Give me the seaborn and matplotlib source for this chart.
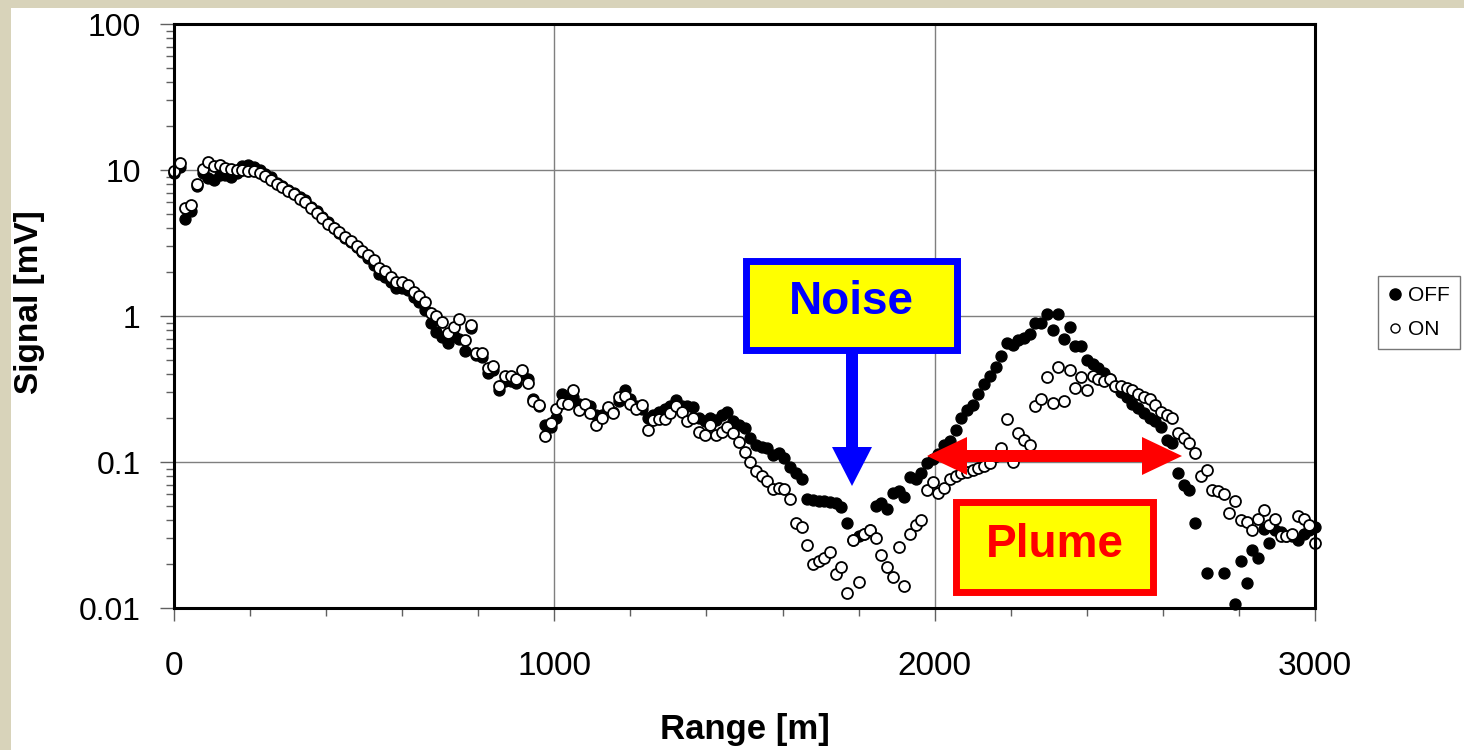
import numpy as np
import pandas as pd
import matplotlib
matplotlib.use("Agg")
import matplotlib.pyplot as plt
import seaborn as sns
from matplotlib.patches import Rectangle, Polygon
from matplotlib.lines import Line2D
from matplotlib.ticker import MultipleLocator, LogLocator, NullFormatter, FixedLocator, FixedFormatter

# ---------------- data ----------------
range_m = np.arange(0, 3001, 15)  # 15 m lidar range bins

signal_on = [
    9.8, 11.2, 5.5, 5.8, 8.0, 10.2, 11.3, 10.6, 10.8, 10.4,
    10.1, 10.0, 10.0, 9.9, 9.8, 9.5, 9.1, 8.6, 8.0, 7.6,
    7.2, 6.9, 6.3, 6.0, 5.5, 5.1, 4.7, 4.3, 4.0, 3.75,
    3.45, 3.25, 3.0, 2.8, 2.6, 2.4, 2.12, 2.04, 1.86, 1.72,
    1.72, 1.63, 1.47, 1.37, 1.25, 1.05, 1.0, 0.91, 0.77, 0.84,
    0.95, 0.68, 0.87, 0.56, 0.56, 0.44, 0.455, 0.33, 0.39, 0.39,
    0.37, 0.43, 0.35, 0.26, 0.245, 0.15, 0.186, 0.23, 0.255, 0.25,
    0.31, 0.227, 0.25, 0.215, 0.18, 0.2, 0.237, 0.218, 0.28, 0.284,
    0.25, 0.23, 0.245, 0.166, 0.194, 0.196, 0.196, 0.215, 0.24, 0.22,
    0.19, 0.2, 0.16, 0.153, 0.18, 0.153, 0.16, 0.175, 0.157, 0.138,
    0.118, 0.1, 0.087, 0.08, 0.074, 0.065, 0.066, 0.065, 0.056, 0.038,
    0.036, 0.027, 0.02, 0.021, 0.022, 0.024, 0.017, 0.019, 0.0126, 0.029,
    0.015, 0.032, 0.034, 0.03, 0.023, 0.019, 0.0164, 0.026, 0.0142, 0.032,
    0.037, 0.04, 0.064, 0.073, 0.061, 0.066, 0.077, 0.08, 0.084, 0.086,
    0.088, 0.091, 0.094, 0.098, 0.11, 0.124, 0.196, 0.1, 0.157, 0.142,
    0.131, 0.24, 0.27, 0.38, 0.255, 0.45, 0.263, 0.43, 0.32, 0.38,
    0.31, 0.39, 0.37, 0.36, 0.37, 0.33, 0.33, 0.32, 0.31, 0.29,
    0.28, 0.27, 0.245, 0.22, 0.21, 0.2, 0.157, 0.145, 0.134, 0.115,
    0.08, 0.088, 0.064, 0.063, 0.06, 0.045, 0.054, 0.04, 0.039, 0.034,
    0.041, 0.047, 0.037, 0.041, 0.031, 0.031, 0.032, 0.043, 0.041, 0.037,
    0.028,
]

nan = float("nan")
signal_off = [
    9.5, 10.5, 4.6, 5.2, 7.8, 9.5, 8.8, 8.6, 9.3, 9.2,
    9.0, 9.6, 10.6, 10.9, 10.5, 10.0, 9.4, 8.9, 8.2, 7.8,
    7.3, 7.0, 6.5, 6.2, 5.6, 5.2, 4.8, 4.4, 4.0, 3.7,
    3.4, 3.2, 2.95, 2.75, 2.5, 2.25, 1.95, 1.85, 1.7, 1.55,
    1.55, 1.5, 1.35, 1.25, 1.1, 0.89, 0.78, 0.72, 0.65, 0.73,
    0.7, 0.58, 0.83, 0.54, 0.52, 0.41, 0.43, 0.31, 0.36, 0.36,
    0.35, 0.4, 0.37, 0.27, 0.24, 0.18, 0.175, 0.2, 0.29, 0.26,
    0.28, 0.25, 0.24, 0.24, 0.21, 0.21, 0.23, 0.22, 0.26, 0.31,
    0.27, 0.24, 0.23, 0.2, 0.21, 0.22, 0.23, 0.24, 0.266, 0.24,
    0.24, 0.237, 0.2, 0.19, 0.2, 0.195, 0.21, 0.22, 0.19, 0.18,
    0.17, 0.145, 0.13, 0.127, 0.125, 0.112, 0.115, 0.106, 0.092, 0.084,
    0.077, 0.056, 0.055, 0.054, 0.054, 0.053, 0.052, 0.049, 0.038, 0.029,
    0.031, 0.032, 0.034, 0.05, 0.052, 0.048, 0.061, 0.063, 0.058, 0.079,
    0.077, 0.084, 0.098, 0.105, 0.113, 0.13, 0.14, 0.165, 0.2, 0.227,
    0.245, 0.29, 0.34, 0.39, 0.45, 0.53, 0.65, 0.63, 0.68, 0.71,
    0.75, 0.9, 0.9, 1.04, 0.8, 1.04, 0.7, 0.84, 0.62, 0.62,
    0.5, 0.47, 0.44, 0.41, 0.37, 0.33, 0.3, 0.28, 0.25, 0.235,
    0.215, 0.2, 0.19, 0.175, 0.142, 0.134, 0.084, 0.07, 0.064, 0.038,
    nan, 0.0175, nan, nan, 0.0173, nan, 0.0106, 0.021, 0.0148, 0.025,
    0.022, 0.035, 0.028, 0.034, 0.033, 0.031, 0.031, 0.029, 0.032, 0.034,
    0.036,
]

x_ticks = [0, 1000, 2000, 3000]
x_tick_labels = ["0", "1000", "2000", "3000"]
y_ticks = [0.01, 0.1, 1, 10, 100]
y_tick_labels = ["0.01", "0.1", "1", "10", "100"]

df = pd.DataFrame({"range": range_m, "OFF": signal_off, "ON": signal_on})

# ---------------- figure ----------------
sns.set_style("white")
plt.rcParams["font.family"] = ["Liberation Sans", "DejaVu Sans"]
plt.rcParams["text.color"] = "black"
plt.rcParams["axes.labelcolor"] = "black"
plt.rcParams["xtick.color"] = "black"
plt.rcParams["ytick.color"] = "black"

W, H = 1464, 750
fig = plt.figure(figsize=(W / 100, H / 100), dpi=100)
fig.patch.set_facecolor("#d8d3ba")
fig.add_artist(Rectangle((11 / W, 0), 1 - 11 / W, 1 - 8 / H, transform=fig.transFigure,
                         facecolor="white", edgecolor="none", zorder=0))

ax = fig.add_axes([174 / W, 1 - 608 / H, (1315 - 174) / W, (608 - 24) / H])
ax.set_facecolor("white")

sns.scatterplot(data=df, x="range", y="OFF", ax=ax, color="black", edgecolor="black",
                s=62, linewidth=1.0, zorder=3, legend=False)
sns.scatterplot(data=df, x="range", y="ON", ax=ax, color="white", edgecolor="black",
                s=62, linewidth=1.3, zorder=4, legend=False)
for coll in ax.collections:
    coll.set_clip_on(False)

ax.set_yscale("log")
ax.set_xlim(0, 3000)
ax.set_ylim(0.01, 100)

ax.xaxis.set_major_locator(FixedLocator(x_ticks))
ax.xaxis.set_major_formatter(FixedFormatter(x_tick_labels))
ax.xaxis.set_minor_locator(MultipleLocator(200))
ax.yaxis.set_major_locator(FixedLocator(y_ticks))
ax.yaxis.set_major_formatter(FixedFormatter(y_tick_labels))
ax.yaxis.set_minor_locator(LogLocator(base=10, subs=np.arange(2, 10)))
ax.yaxis.set_minor_formatter(NullFormatter())

ax.grid(True, which="major", color="#7f7f7f", linewidth=1.0)
ax.set_axisbelow(True)
for sp in ax.spines.values():
    sp.set_color("black")
    sp.set_linewidth(2.2)
    sp.set_zorder(5)

ax.tick_params(axis="both", which="both", bottom=True, left=True, top=False, right=False)
ax.tick_params(axis="x", which="major", direction="out", length=9, width=1.0,
               color="#606060", labelcolor="black", pad=22, labelsize=24)
ax.tick_params(axis="x", which="minor", direction="out", length=6, width=1.0, color="#606060")
ax.tick_params(axis="y", which="major", direction="out", length=10, width=1.0,
               color="#606060", labelcolor="black", pad=14, labelsize=23)
ax.tick_params(axis="y", which="minor", direction="out", length=6, width=1.0, color="#606060")

ax.set_xlabel("Range [m]", fontsize=25, fontweight="bold", va="center", color="black")
ax.xaxis.set_label_coords((745 - 174) / 1141, (608 - 730) / 584)
ax.set_ylabel("Signal [mV]", fontsize=24, fontweight="bold", va="center", ha="center",
              color="black")
ax.yaxis.set_label_coords((30 - 174) / 1141, (608 - 302) / 584)

# ---------------- legend ----------------
handles = [
    Line2D([], [], linestyle="none", marker="o", markersize=8, markerfacecolor="black",
           markeredgecolor="black"),
    Line2D([], [], linestyle="none", marker="o", markersize=6.5, markerfacecolor="white",
           markeredgecolor="black", markeredgewidth=1.0),
]
leg = fig.legend(handles, ["OFF", "ON"], loc="upper left",
                 bbox_to_anchor=(1378 / W, 1 - 276 / H), fontsize=15,
                 frameon=True, fancybox=False, edgecolor="#555555",
                 handlelength=0.6, handletextpad=0.35, borderpad=0.5,
                 labelspacing=0.7, borderaxespad=0)
leg.get_frame().set_linewidth(1.0)
for t in leg.get_texts():
    t.set_color("black")


# ---------------- annotations (pixel coordinates of the figure) ----------------
def fpt(x, y):
    return (x / W, 1 - y / H)


def fig_poly(pts, color):
    fig.add_artist(Polygon([fpt(x, y) for x, y in pts], closed=True, transform=fig.transFigure,
                           facecolor=color, edgecolor="none", zorder=10))


def fig_box(x0, y0, x1, y1, edge):
    fig.add_artist(Rectangle(fpt(x0, y1), (x1 - x0) / W, (y1 - y0) / H, transform=fig.transFigure,
                             facecolor="#ffff00", edgecolor=edge, linewidth=5, zorder=11))


# Noise box + blue arrow
fig_poly([(846, 350), (858, 350), (858, 447), (872, 447), (852, 486), (832, 447), (846, 447)],
         "#0000ff")
fig_box(746, 261, 957, 350, "#0000ff")
fig.text(*fpt(851, 302), "Noise", color="#0000ff", fontsize=33, fontweight="bold",
         ha="center", va="center", zorder=12)

# Plume box + red double arrow
fig_poly([(927, 456), (967, 437), (967, 450), (1142, 450), (1142, 437), (1182, 456),
          (1142, 475), (1142, 462), (967, 462), (967, 475)], "#ff0000")
fig_box(956, 502, 1153, 592, "#ff0000")
fig.text(*fpt(1055, 545), "Plume", color="#ff0000", fontsize=33, fontweight="bold",
         ha="center", va="center", zorder=12)

fig.savefig("out.png", dpi=100, facecolor=fig.get_facecolor())
